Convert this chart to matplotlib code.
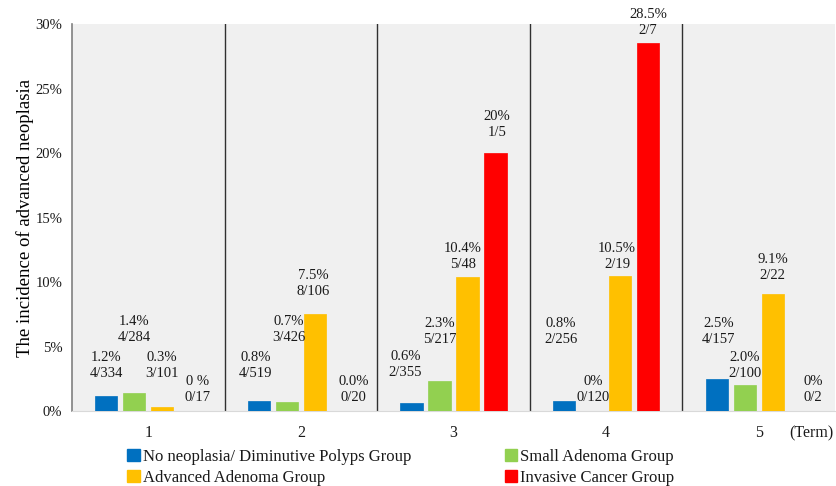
import matplotlib
matplotlib.use("Agg")
import matplotlib.pyplot as plt
import numpy as np
from matplotlib.patches import Patch

plt.rcParams['font.family'] = ['Liberation Serif', 'DejaVu Serif']

terms = ["1", "2", "3", "4", "5"]
groups = ["No neoplasia/ Diminutive Polyps Group", "Small Adenoma Group",
          "Advanced Adenoma Group", "Invasive Cancer Group"]
blue_vals = [1.2, 0.8, 0.6, 0.8, 2.5]
green_vals = [1.4, 0.7, 2.3, 0.0, 2.0]
yellow_vals = [0.3, 7.5, 10.4, 10.5, 9.1]
red_vals = [0.0, 0.0, 20.0, 28.5, 0.0]

blue_lbl = ["1.2%\n4/334", "0.8%\n4/519", "0.6%\n2/355", "0.8%\n2/256", "2.5%\n4/157"]
green_lbl = ["1.4%\n4/284", "0.7%\n3/426", "2.3%\n5/217", "0%\n0/120", "2.0%\n2/100"]
yellow_lbl = ["0.3%\n3/101", "7.5%\n8/106", "10.4%\n5/48", "10.5%\n2/19", "9.1%\n2/22"]
red_lbl = ["0 %\n0/17", "0.0%\n0/20", "20%\n1/5", "28.5%\n2/7", "0%\n0/2"]

yticks = [0, 5, 10, 15, 20, 25, 30]
ytick_labels = ["0%", "5%", "10%", "15%", "20%", "25%", "30%"]

colors = ["#0070C0", "#92D050", "#FFC000", "#FF0000"]
series = [blue_vals, green_vals, yellow_vals, red_vals]
labels = [blue_lbl, green_lbl, yellow_lbl, red_lbl]

# label placement (x offset from bar center in data units, y center in %)
lbl_dx = [
    [0.0, -0.02, -0.04, -0.02, 0.01],
    [0.0, 0.01, 0.0, 0.01, 0.0],
    [0.0, -0.01, -0.03, -0.02, 0.0],
    [0.05, 0.07, 0.01, 0.0, 0.08],
]
lbl_y = [
    [3.5, 3.5, 3.6, 6.2, 6.2],
    [6.3, 6.3, 6.2, 1.7, 3.5],
    [3.5, 9.9, 12.0, 12.0, 11.1],
    [1.7, 1.7, 22.2, 30.1, 1.7],
]

fig = plt.figure(figsize=(8.36, 4.86), dpi=100)
ax = fig.add_axes([0.0861, 0.1543, 0.9127, 0.7963])
ax.set_facecolor("#F0F0F0")

x = np.arange(1, 6)
step = 0.1835
width = 0.145
for i, (vals, col) in enumerate(zip(series, colors)):
    pos = x + (i - 1.5) * step
    ax.bar(pos, vals, width=width, color=col, edgecolor=col, linewidth=0.5, zorder=3)
    for j in range(5):
        ax.text(pos[j] + lbl_dx[i][j], lbl_y[i][j], labels[i][j], ha="center", va="center",
                fontsize=10.5, color="#1a1a1a", linespacing=1.3, zorder=4, clip_on=False)

for b in [1.5, 2.5, 3.5, 4.5]:
    ax.axvline(b, color="#303030", linewidth=1.0, zorder=2)

ax.set_xlim(0.5, 5.5)
ax.set_ylim(0, 30)
ax.set_yticks(yticks)
ax.set_yticklabels(ytick_labels, fontsize=10.5, color="#1a1a1a")
ax.set_xticks(x)
ax.set_xticklabels(terms, fontsize=11.5, color="#1a1a1a")
ax.tick_params(axis="x", length=0, pad=10)
ax.tick_params(axis="y", length=0, pad=7)
for s in ["top", "right"]:
    ax.spines[s].set_visible(False)
ax.spines["left"].set_color("#808080")
ax.spines["left"].set_linewidth(1.2)
ax.spines["bottom"].set_color("#D9D9D9")

ax.set_ylabel("The incidence of advanced neoplasia", fontsize=13.5, color="#000000", labelpad=1)
fig.text(834 / 836, 1 - 433 / 486, "(Term)", ha="right", va="center", fontsize=11.5,
         color="#1a1a1a")

order = [0, 2, 1, 3]
handles = [Patch(facecolor=colors[k], edgecolor=colors[k]) for k in order]
names = [groups[k] for k in order]
leg = fig.legend(handles, names, loc="upper left", bbox_to_anchor=(127 / 836, 1 - 449 / 486),
                 ncol=2, frameon=False, fontsize=12, handlelength=0.75, handleheight=0.75,
                 handletextpad=0.2, columnspacing=5.6, labelspacing=0.3, borderaxespad=0,
                 borderpad=0)
for t in leg.get_texts():
    t.set_color("#1a1a1a")

fig.savefig("out.png", dpi=100)
